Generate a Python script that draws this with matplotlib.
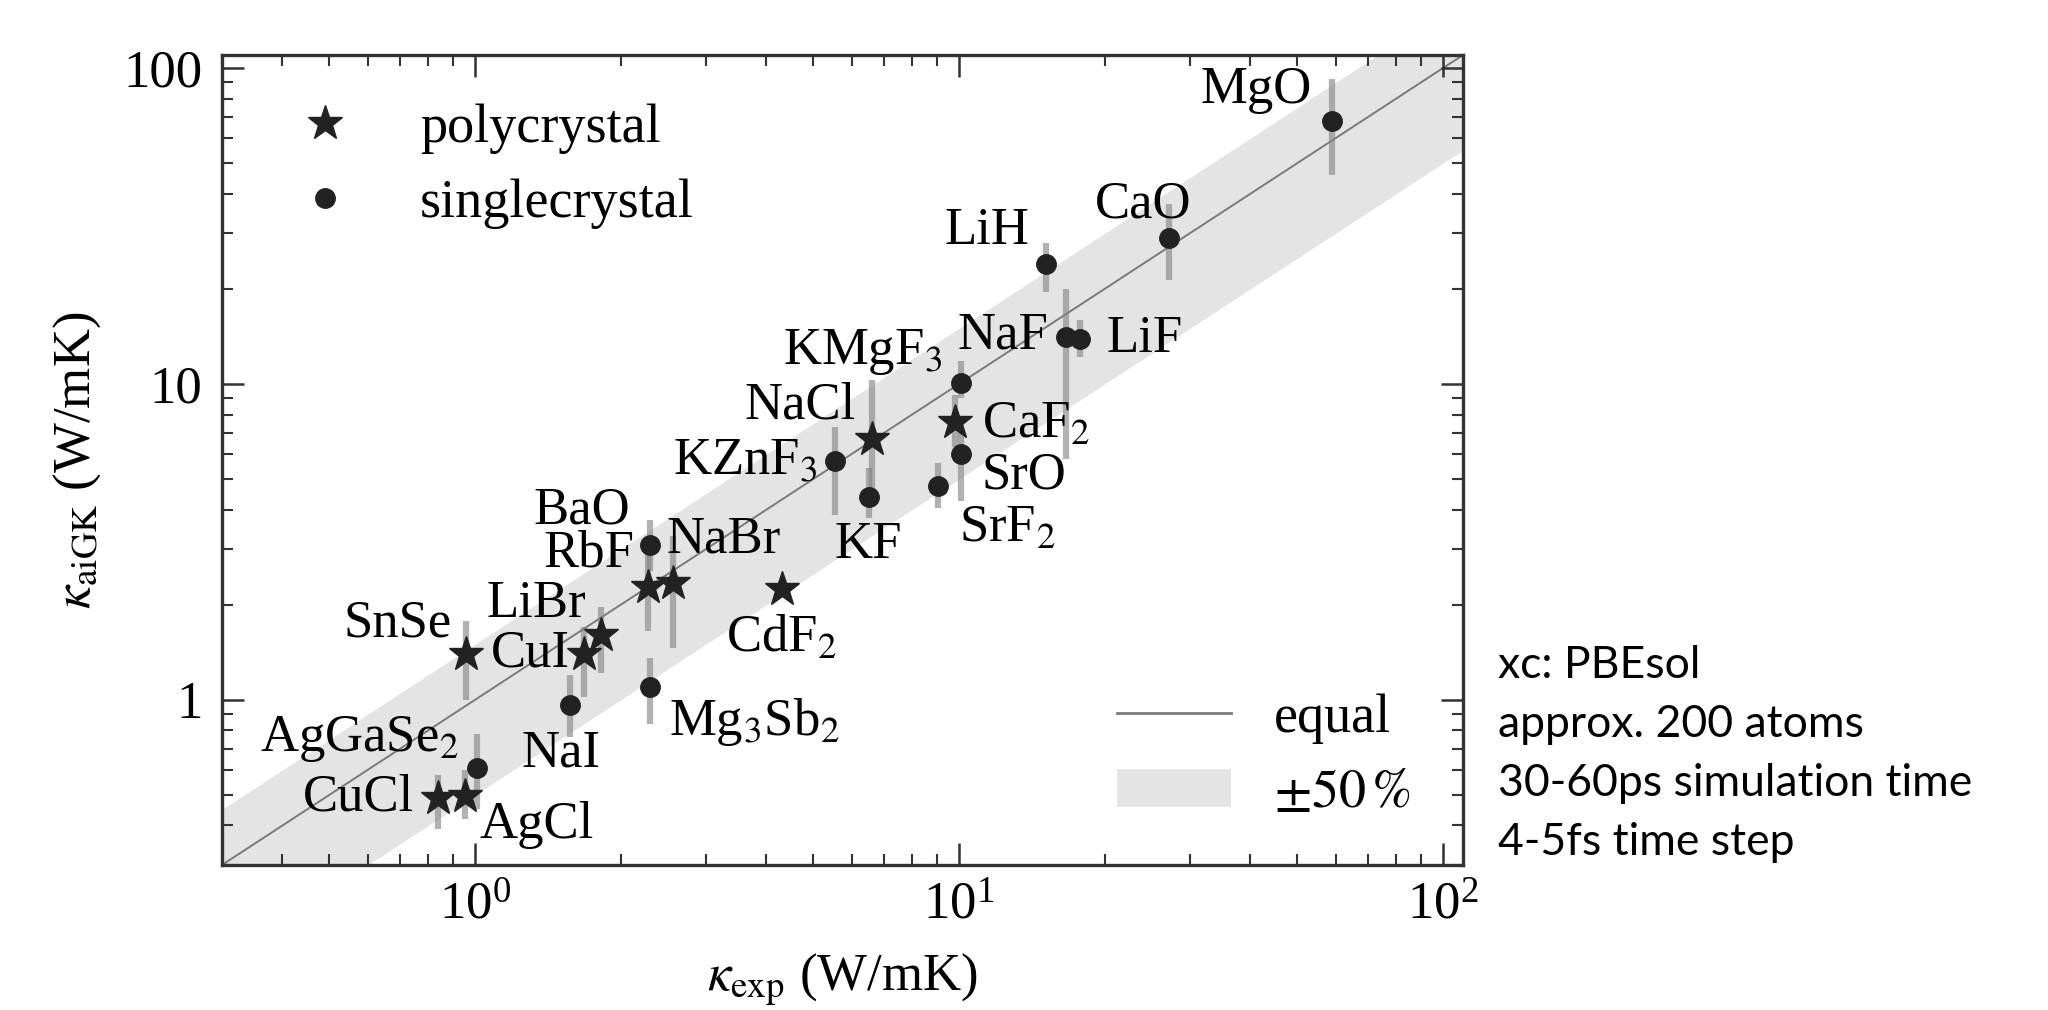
import numpy as np
import matplotlib
matplotlib.use("Agg")
import matplotlib.pyplot as plt
from matplotlib.ticker import FixedLocator, FuncFormatter, LogLocator, NullFormatter
from matplotlib.lines import Line2D
from matplotlib.patches import Patch

plt.rcParams["font.family"] = ["Liberation Serif", "DejaVu Serif"]
plt.rcParams["mathtext.fontset"] = "stix"

# polycrystal samples (stars)
poly_names = ["SnSe", "CuI", "LiBr", "RbF", "NaBr", "CdF$_2$", "NaCl", "CaF$_2$", "CuCl", "AgCl"]
poly_kexp = [0.96, 1.68, 1.82, 2.28, 2.56, 4.3, 6.6, 9.8, 0.84, 0.955]
poly_kgk = [1.40, 1.40, 1.60, 2.27, 2.35, 2.25, 6.7, 7.6, 0.49, 0.495]
poly_lo = [1.00, 1.02, 1.22, 1.65, 1.46, 2.25, 4.1, 6.3, 0.39, 0.42]
poly_hi = [1.78, 1.70, 1.97, 3.00, 3.30, 2.25, 10.3, 9.2, 0.58, 0.60]

# single crystal samples (circles)
single_names = ["AgGaSe$_2$", "NaI", "Mg$_3$Sb$_2$", "BaO", "KZnF$_3$", "KF", "SrF$_2$",
                "SrO", "KMgF$_3$", "LiH", "NaF", "LiF", "CaO", "MgO"]
single_kexp = [1.01, 1.57, 2.30, 2.30, 5.55, 6.5, 9.05, 10.1, 10.1, 15.1, 16.6, 17.8, 27.2, 59]
single_kgk = [0.61, 0.96, 1.10, 3.10, 5.7, 4.4, 4.75, 6.0, 10.1, 24, 14.1, 13.9, 29, 68]
single_lo = [0.45, 0.76, 0.84, 2.55, 3.85, 3.75, 4.05, 4.25, 9.0, 19.5, 5.8, 12.2, 21.4, 46]
single_hi = [0.78, 1.20, 1.36, 3.70, 7.3, 5.4, 5.6, 7.2, 11.8, 28, 20, 15.9, 37, 92]

# label offsets in pixels (label centre relative to the point)
label_offsets = {
    "SnSe": (-69, 30), "CuI": (-54, 0), "LiBr": (-65, 31), "RbF": (-59, 34),
    "NaBr": (51, 43), "CdF$_2$": (0, -50), "NaCl": (-72, 33), "CaF$_2$": (81, -3),
    "CuCl": (-80, 0), "AgCl": (71, -29),
    "AgGaSe$_2$": (-118, 29), "NaI": (-9, -48), "Mg$_3$Sb$_2$": (104, -35),
    "BaO": (-68, 34), "KZnF$_3$": (-90, 0), "KF": (0, -48), "SrF$_2$": (69, -43),
    "SrO": (63, -22), "KMgF$_3$": (-98, 31), "LiH": (-59, 33), "NaF": (-63, 1),
    "LiF": (64, 0), "CaO": (-26, 33), "MgO": (-76, 31),
}

notes = ["xc: PBEsol", "approx. 200 atoms", "30-60ps simulation time", "4-5fs time step"]

lims = (0.3, 110)
fs = 38
dark = "#222222"
line_grey = "#7a7a7a"
band_grey = "#e4e4e4"

fig = plt.figure(figsize=(20.48, 10.10), dpi=100)
ax = fig.add_axes([0.1084, 0.1436, 0.606, 0.802])
ax.set_xscale("log")
ax.set_yscale("log")

xs = np.logspace(np.log10(lims[0]), np.log10(lims[1]), 200)
ax.fill_between(xs, 0.5 * xs, 1.5 * xs, color=band_grey, lw=0, zorder=0)
ax.plot(xs, xs, color=line_grey, lw=1.4, zorder=1)

for kexp, kgk, lo, hi in [(poly_kexp, poly_kgk, poly_lo, poly_hi),
                          (single_kexp, single_kgk, single_lo, single_hi)]:
    kgk = np.array(kgk)
    yerr = [kgk - np.array(lo), np.array(hi) - kgk]
    ax.errorbar(kexp, kgk, yerr=yerr, fmt="none", ecolor="gray", elinewidth=4.5,
                alpha=0.6, zorder=2)

ax.plot(poly_kexp, poly_kgk, "*", ms=26, color=dark, mec=dark, ls="none", zorder=3)
ax.plot(single_kexp, single_kgk, "o", ms=14, color=dark, mec=dark, ls="none", zorder=3)

for names, kexp, kgk in [(poly_names, poly_kexp, poly_kgk),
                         (single_names, single_kexp, single_kgk)]:
    for name, x, y in zip(names, kexp, kgk):
        ax.annotate(name, (x, y), xytext=label_offsets[name], textcoords="offset pixels",
                    ha="center", va="center", fontsize=fs, zorder=4)

ax.set_xlim(lims)
ax.set_ylim(lims)

ax.yaxis.set_major_locator(FixedLocator([1, 10, 100]))
ax.yaxis.set_major_formatter(FuncFormatter(lambda v, p: f"{v:g}"))
ax.yaxis.set_minor_locator(LogLocator(base=10, subs=np.arange(2, 10)))
ax.yaxis.set_minor_formatter(NullFormatter())
ax.xaxis.set_minor_formatter(NullFormatter())

ax.tick_params(which="both", direction="in", top=True, right=True, color="#333333")
ax.tick_params(which="major", length=16, width=1.8, labelsize=fs)
ax.tick_params(which="minor", length=8, width=1.5)
ax.tick_params(axis="x", which="major", pad=12)
ax.tick_params(axis="y", which="major", pad=14)
for sp in ax.spines.values():
    sp.set_linewidth(2.4)
    sp.set_color("#333333")

ax.set_xlabel(r"$\kappa_{\rm exp}$ (W/mK)", fontsize=fs)
ax.set_ylabel(r"$\kappa_{\rm aiGK}$ (W/mK)", fontsize=fs)
ax.xaxis.set_label_coords(0.5, -0.106)
ax.yaxis.set_label_coords(-0.096, 0.5)

h1 = [Line2D([], [], marker="*", ms=26, color=dark, ls="none", label="polycrystal"),
      Line2D([], [], marker="o", ms=14, color=dark, ls="none", label="singlecrystal")]
leg1 = ax.legend(handles=h1, loc="upper left", frameon=False, fontsize=39,
                 handletextpad=0.75, labelspacing=0.45, borderaxespad=0.5)
ax.add_artist(leg1)

h2 = [Line2D([], [], color=line_grey, lw=2.0, label="equal"),
      Patch(facecolor=band_grey, edgecolor="none", label=r"$\pm 50\,\%$")]
ax.legend(handles=h2, loc="lower right", bbox_to_anchor=(0.993, 0.003), frameon=False,
          fontsize=39, handlelength=2.1, handletextpad=0.8, labelspacing=0.45,
          borderaxespad=0.4)

for i, line in enumerate(notes):
    fig.text(0.7314, 0.3406 - i * 0.0584, line, fontsize=32, family="Lato", va="center")

fig.savefig("out.png", dpi=100)
